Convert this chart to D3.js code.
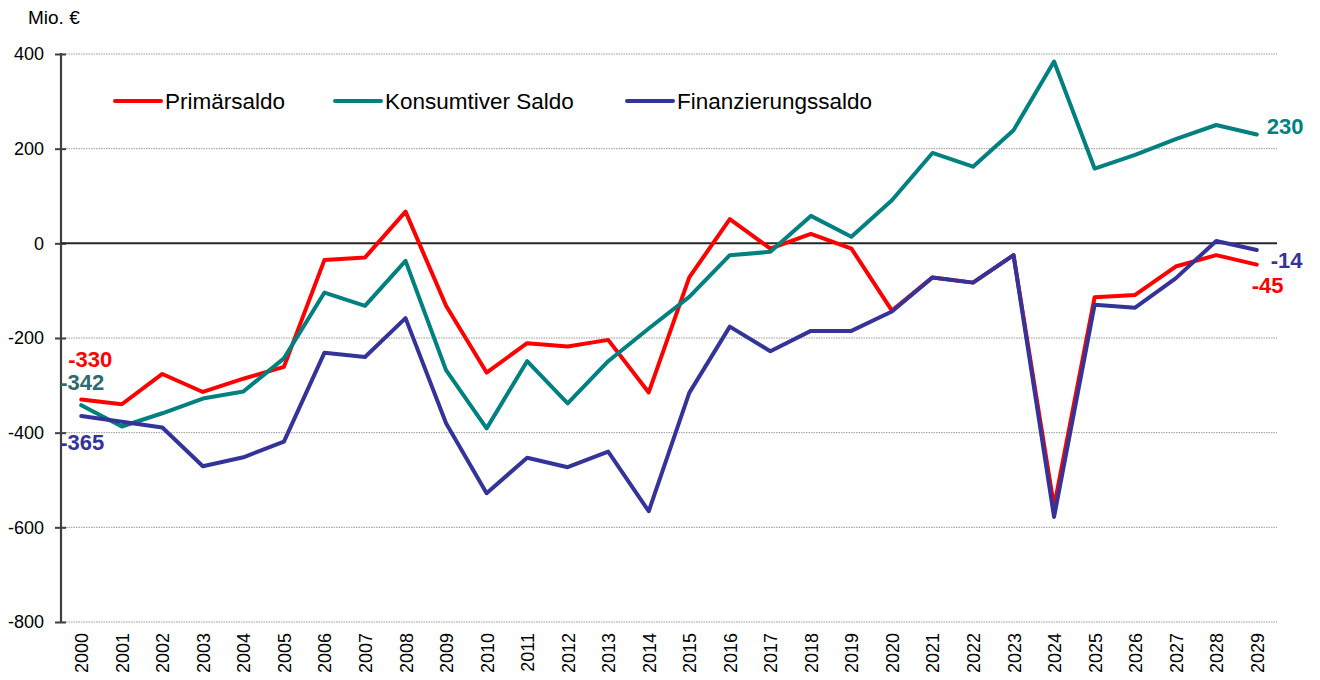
<!DOCTYPE html>
<html>
<head>
<meta charset="utf-8">
<script src="https://cdn.jsdelivr.net/npm/d3@7"></script>
<style>
  html, body { margin: 0; padding: 0; background: #fff; }
  svg { display: block; font-family: Arial, "Liberation Sans", sans-serif; }
</style>
</head>
<body>
<svg id="chart" width="1320" height="680"></svg>
<script>
// Haushaltssalden in Mio. €, 2000–2029
const years = d3.range(2000, 2030).map(String);

const primaersaldo = [
  -330, -340, -276, -314, -286, -261, -35, -30, 67, -132,
  -273, -211, -218, -204, -315, -72, 51, -11, 20, -11,
  -142, -72, -83, -25, -556, -114, -109, -49, -25, -45
];

const konsumtiverSaldo = [
  -342, -387, -359, -328, -313, -243, -104, -132, -37, -268,
  -391, -249, -338, -249, -180, -113, -25, -18, 58, 14,
  91, 191, 162, 239, 384, 158, 187, 220, 250, 230
];

const finanzierungssaldo = [
  -365, -377, -389, -471, -452, -419, -231, -240, -158, -380,
  -528, -453, -473, -440, -566, -316, -176, -228, -185, -185,
  -144, -72, -83, -25, -578, -130, -136, -74, 5, -14
];

const yTicks = [400, 200, 0, -200, -400, -600, -800];

const series = [
  { name: "Primärsaldo",        values: primaersaldo,       color: "#ff0000" },
  { name: "Konsumtiver Saldo",  values: konsumtiverSaldo,   color: "#00807f" },
  { name: "Finanzierungssaldo", values: finanzierungssaldo, color: "#333399" }
];

// plain hyphen-minus for negative numbers
const locale = d3.formatLocale({ decimal: ",", thousands: ".", grouping: [3], currency: ["", " €"], minus: "-" });
const fmt = locale.format("d");

const svg = d3.select("#chart");
const plot = { left: 61, right: 1277, top: 54, bottom: 622 };

const x = d3.scalePoint().domain(years).range([plot.left, plot.right]).padding(0.5);
const y = d3.scaleLinear().domain([-800, 400]).range([plot.bottom, plot.top]);

// unit label
svg.append("text")
  .attr("x", 28).attr("y", 24)
  .attr("font-size", 19).attr("fill", "#000")
  .text("Mio. €");

// dotted gridlines
svg.append("g")
  .selectAll("line")
  .data(yTicks.filter(v => v !== 0))
  .join("line")
  .attr("x1", plot.left).attr("x2", plot.right)
  .attr("y1", d => y(d)).attr("y2", d => y(d))
  .attr("stroke", "#9a9a9a").attr("stroke-width", 1)
  .attr("stroke-dasharray", "1.5,1");

// y axis
const yAxis = d3.axisLeft(y).tickValues(yTicks).tickSize(0).tickPadding(0).tickFormat(fmt);
const gy = svg.append("g").attr("transform", `translate(${plot.left},0)`).call(yAxis);
gy.select(".domain").remove();
gy.selectAll(".tick text")
  .attr("x", -17)
  .attr("font-size", 18)
  .attr("font-family", "Arial, 'Liberation Sans', sans-serif")
  .attr("fill", "#000");
gy.selectAll(".tick").append("line")
  .attr("x1", -6).attr("x2", 5)
  .attr("stroke", "#404040").attr("stroke-width", 2);
gy.append("line")
  .attr("x1", 0).attr("x2", 0)
  .attr("y1", y(400) - 1).attr("y2", y(-800) + 1)
  .attr("stroke", "#404040").attr("stroke-width", 2.2);

// zero line
svg.append("line")
  .attr("x1", plot.left).attr("x2", plot.right)
  .attr("y1", y(0)).attr("y2", y(0))
  .attr("stroke", "#262626").attr("stroke-width", 2);

// x axis labels (rotated years)
const xAxis = d3.axisBottom(x).tickSize(0).tickPadding(0);
const gx = svg.append("g").attr("transform", `translate(0,${plot.bottom})`).call(xAxis);
gx.select(".domain").remove();
gx.selectAll(".tick text")
  .attr("transform", "rotate(-90)")
  .attr("x", -11).attr("y", 0).attr("dy", "0.36em")
  .attr("text-anchor", "end")
  .attr("font-size", 18)
  .attr("font-family", "Arial, 'Liberation Sans', sans-serif")
  .attr("fill", "#000");

// series lines
const line = d3.line()
  .x((d, i) => x(years[i]))
  .y(d => y(d));

svg.append("g")
  .selectAll("path")
  .data(series)
  .join("path")
  .attr("d", s => line(s.values))
  .attr("fill", "none")
  .attr("stroke", s => s.color)
  .attr("stroke-width", 4)
  .attr("stroke-linejoin", "round")
  .attr("stroke-linecap", "round");

// legend
const legendItems = [
  { s: series[0], x0: 115 },
  { s: series[1], x0: 335 },
  { s: series[2], x0: 627 }
];
const legend = svg.append("g");
legendItems.forEach(item => {
  legend.append("line")
    .attr("x1", item.x0).attr("x2", item.x0 + 46)
    .attr("y1", 101).attr("y2", 101)
    .attr("stroke", item.s.color).attr("stroke-width", 4)
    .attr("stroke-linecap", "round");
  legend.append("text")
    .attr("x", item.x0 + 50).attr("y", 101).attr("dy", "0.36em")
    .attr("font-size", 22.5).attr("fill", "#000")
    .text(item.s.name);
});

// end-point value labels
const first = 0, last = years.length - 1;
const valueLabels = [
  { s: series[0], i: first, dx: -13, dy: -40, color: "#ff0000" },
  { s: series[1], i: first, dx: -21, dy: -23, color: "#2f6a6e" },
  { s: series[2], i: first, dx: -21, dy: 26,  color: "#333399" },
  { s: series[1], i: last,  dx: 10,  dy: -8,  color: "#00807f" },
  { s: series[2], i: last,  dx: 14,  dy: 10,  color: "#333399" },
  { s: series[0], i: last,  dx: -5,  dy: 20,  color: "#ff0000" }
];
svg.append("g")
  .selectAll("text")
  .data(valueLabels)
  .join("text")
  .attr("x", d => x(years[d.i]) + d.dx)
  .attr("y", d => y(d.s.values[d.i]) + d.dy)
  .attr("dy", "0.36em")
  .attr("font-size", 22)
  .attr("font-weight", "bold")
  .attr("fill", d => d.color)
  .text(d => fmt(d.s.values[d.i]));
</script>
</body>
</html>
